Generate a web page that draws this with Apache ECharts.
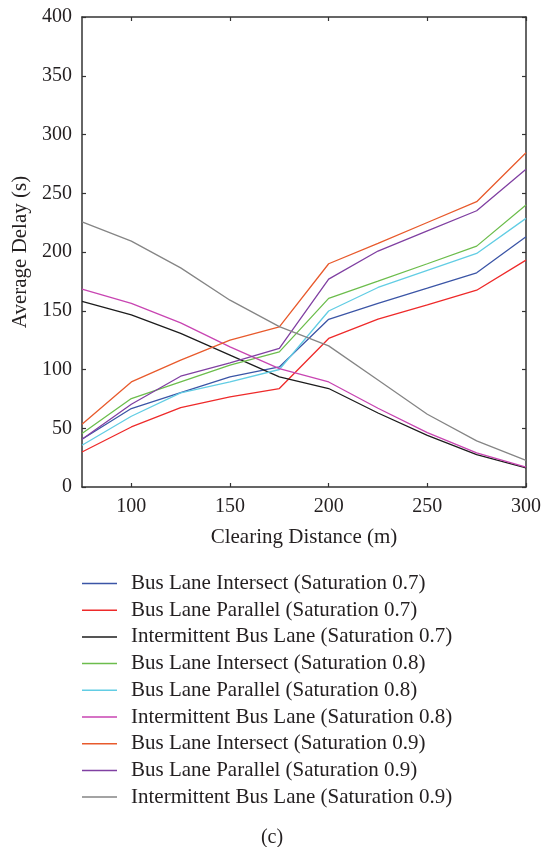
<!DOCTYPE html>
<html>
<head>
<meta charset="utf-8">
<style>
  html, body { margin: 0; padding: 0; background: #fff; }
  #chart { width: 544px; height: 847px; }
</style>
<script src="https://cdn.jsdelivr.net/npm/echarts@6/dist/echarts.min.js"></script>
</head>
<body>
<div id="chart"></div>
<script>
// Clearing distance (m) on the x axis
const distances = [75, 100, 125, 150, 175, 200, 225, 250, 275, 300];
const xTicks = [100, 150, 200, 250, 300];

// Average delay (s) for each lane layout and saturation level
const intersect07 = [40.6, 66.8, 80.4, 93.7, 102.2, 142.7, 156.2, 169.2, 182.3, 213.0];
const parallel07 = [29.8, 51.1, 67.6, 76.7, 83.8, 126.4, 142.8, 155.0, 167.5, 193.1];
const intermittent07 = [157.9, 146.5, 130.7, 112.2, 93.7, 83.8, 63.0, 44.0, 27.6, 16.2];
const intersect08 = [45.5, 75.3, 89.4, 103.7, 115.0, 160.5, 175.2, 190.0, 205.0, 240.0];
const parallel08 = [35.5, 60.2, 80.1, 89.4, 100.0, 149.8, 169.8, 184.3, 198.8, 228.6];
const intermittent08 = [168.4, 156.2, 139.7, 119.2, 100.8, 89.4, 67.0, 46.3, 29.0, 17.0];
const intersect09 = [53.4, 89.4, 107.9, 125.0, 136.3, 190.0, 207.4, 225.1, 242.8, 284.5];
const parallel09 = [40.6, 70.4, 94.3, 105.6, 117.9, 176.9, 200.8, 218.0, 235.1, 270.4];
const intermittent09 = [225.7, 209.3, 186.5, 159.0, 136.5, 120.1, 91.0, 61.9, 39.2, 22.7];

const seriesDefs = [
  { name: 'Bus Lane Intersect (Saturation 0.7)', data: intersect07, color: '#3b55a6' },
  { name: 'Bus Lane Parallel (Saturation 0.7)', data: parallel07, color: '#ee2a2a' },
  { name: 'Intermittent Bus Lane (Saturation 0.7)', data: intermittent07, color: '#1c1c1c' },
  { name: 'Bus Lane Intersect (Saturation 0.8)', data: intersect08, color: '#6cbd4c' },
  { name: 'Bus Lane Parallel (Saturation 0.8)', data: parallel08, color: '#62cde4' },
  { name: 'Intermittent Bus Lane (Saturation 0.8)', data: intermittent08, color: '#c845b2' },
  { name: 'Bus Lane Intersect (Saturation 0.9)', data: intersect09, color: '#e85a2c' },
  { name: 'Bus Lane Parallel (Saturation 0.9)', data: parallel09, color: '#8040a2' },
  { name: 'Intermittent Bus Lane (Saturation 0.9)', data: intermittent09, color: '#858585' }
];

const FONT = '"Liberation Serif", "DejaVu Serif", serif';
const INK = '#231f20';
const AXIS = '#333';

const chart = echarts.init(document.getElementById('chart'), null, { renderer: 'canvas' });

const xBase = {
  type: 'value', min: 75, max: 300,
  axisLine: { show: true, onZero: false, lineStyle: { color: AXIS, width: 1.5 } },
  axisTick: { show: true, inside: true, length: 4, customValues: xTicks, lineStyle: { color: AXIS, width: 1.2 } },
  splitLine: { show: false }
};
const yBase = {
  type: 'value', min: 0, max: 400, interval: 50,
  axisLine: { show: true, onZero: false, lineStyle: { color: AXIS, width: 1.5 } },
  axisTick: { show: true, inside: true, length: 4, lineStyle: { color: AXIS, width: 1.2 } },
  splitLine: { show: false }
};

chart.setOption({
  animation: false,
  backgroundColor: '#fff',
  grid: { left: 82, right: 16, top: 17, bottom: 360, containLabel: false },
  xAxis: [
    Object.assign({}, xBase, {
      position: 'bottom',
      name: 'Clearing Distance (m)',
      nameLocation: 'middle',
      nameGap: 40,
      nameTextStyle: { fontFamily: FONT, fontSize: 21, color: INK },
      axisLabel: { show: true, customValues: xTicks, margin: 10, fontFamily: FONT, fontSize: 20, color: INK }
    }),
    Object.assign({}, xBase, { position: 'top', axisLabel: { show: false } })
  ],
  yAxis: [
    Object.assign({}, yBase, {
      position: 'left',
      name: 'Average Delay (s)',
      nameLocation: 'middle',
      nameGap: 50,
      nameTextStyle: { fontFamily: FONT, fontSize: 21, color: INK },
      axisLabel: { show: true, margin: 10, fontFamily: FONT, fontSize: 20, color: INK }
    }),
    Object.assign({}, yBase, { position: 'right', axisLabel: { show: false } })
  ],
  legend: {
    orient: 'vertical',
    left: 82,
    top: 573,
    padding: 0,
    itemWidth: 35,
    itemHeight: 14,
    itemGap: 5.7,
    icon: 'path://M0,0 L35,0 L35,1.5 L0,1.5 Z',
    textStyle: { fontFamily: FONT, fontSize: 21, color: INK, padding: [0, 0, 0, 9] },
    data: seriesDefs.map(s => s.name)
  },
  graphic: [{
    type: 'text', left: 'center', top: 828,
    style: { text: '(c)', fontFamily: FONT, fontSize: 20, fill: INK }
  }],
  series: seriesDefs.map(s => ({
    name: s.name,
    type: 'line',
    xAxisIndex: 0,
    yAxisIndex: 0,
    symbol: 'none',
    color: s.color,
    lineStyle: { color: s.color, width: 1.3 },
    data: distances.map((d, i) => [d, s.data[i]])
  }))
});
</script>
</body>
</html>
